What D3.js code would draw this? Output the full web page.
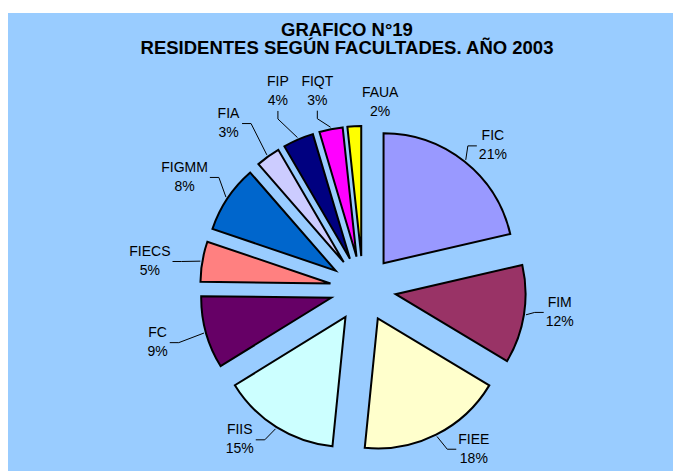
<!DOCTYPE html>
<html>
<head>
<meta charset="utf-8">
<script src="https://cdn.jsdelivr.net/npm/d3@7"></script>
<style>
  body { margin: 0; background: #fff; }
  svg { display: block; font-family: "Liberation Sans", Arial, sans-serif; }
</style>
</head>
<body>
<div id="chart"></div>
<script>
// --- data ---
const faculties = ["FIC", "FIM", "FIEE", "FIIS", "FC", "FIECS", "FIGMM", "FIA", "FIP", "FIQT", "FAUA"];
const shares = [21.4, 12.2, 18.0, 14.6, 9.0, 5.0, 8.4, 3.0, 3.8, 2.9, 1.7];
const sliceColors = ["#9999FF", "#993366", "#FFFFCC", "#CCFFFF", "#660066", "#FF8080",
                     "#0066CC", "#CCCCFF", "#000080", "#FF00FF", "#FFFF00"];
const titleLines = ["GRAFICO N°19", "RESIDENTES SEGÚN FACULTADES. AÑO 2003"];

// label placement: angle shift from slice middle (deg), distance from pie centre
const labelLayout = [[3.5, 194], [-2.5, 198], [-8.2, 194], [7.4, 194], [1.1, 212], [-2.1, 215],
                     [-1.6, 211], [-3.3, 214], [0.2, 216], [-1.6, 204], [8.3, 188]];

const width = 673, height = 471;
const cx = 363, cy = 289, radius = 130, explode = 33;

const svg = d3.select("#chart").append("svg")
  .attr("width", width)
  .attr("height", height);

// === background panel ===
svg.append("rect")
  .attr("x", 8).attr("y", 13)
  .attr("width", width - 8).attr("height", height - 13)
  .attr("fill", "#99CCFF");

// === title ===
svg.append("g")
  .selectAll("text")
  .data(titleLines)
  .join("text")
  .attr("x", 347)
  .attr("y", (d, i) => 36 + i * 18)
  .attr("text-anchor", "middle")
  .attr("font-weight", "bold")
  .attr("font-size", "18.5px")
  .attr("fill", "#000")
  .text(d => d);

// === pie ===
const data = faculties.map((f, i) => ({ name: f, value: shares[i], color: sliceColors[i], layout: labelLayout[i] }));

const pie = d3.pie().sort(null).value(d => d.value).startAngle(0).endAngle(2 * Math.PI);
const arcs = pie(data);
const arc = d3.arc().innerRadius(0).outerRadius(radius);

const mid = a => (a.startAngle + a.endAngle) / 2;

const g = svg.append("g").attr("transform", `translate(${cx},${cy})`);

g.selectAll("path")
  .data(arcs)
  .join("path")
  .attr("transform", d => {
    const m = mid(d);
    return `translate(${explode * Math.sin(m)},${-explode * Math.cos(m)})`;
  })
  .attr("d", arc)
  .attr("fill", d => d.data.color)
  .attr("stroke", "#000")
  .attr("stroke-width", 2)
  .attr("stroke-linejoin", "miter");

// === labels ===
const labels = g.append("g").attr("font-size", "14px").attr("fill", "#000");
const leaders = g.append("g").attr("fill", "none").attr("stroke", "#000").attr("stroke-width", 1);

arcs.forEach(d => {
  const m = mid(d);
  const la = m + d.data.layout[0] * Math.PI / 180;
  const lr = d.data.layout[1];
  const lx = lr * Math.sin(la), ly = -lr * Math.cos(la);

  const t = labels.append("text").attr("text-anchor", "middle");
  t.append("tspan").attr("x", lx).attr("y", ly - 4.5).text(d.data.name);
  t.append("tspan").attr("x", lx).attr("y", ly + 14.5).text(Math.round(d.data.value) + "%");

  const bb = t.node().getBBox();
  const sr = radius + explode + 2;
  const sx = sr * Math.sin(m), sy = -sr * Math.cos(m);

  let pts;
  const offVertical = Math.abs(Math.sin(la));
  if (offVertical < 0.45 && ly < 0) {
    // label above: end under the label
    const ey = bb.y + bb.height + 3;
    pts = [[sx, sy], [lx, ey + 8], [lx, ey]];
    if (sy - ey < 12) pts = null;
  } else {
    const ex = lx > 0 ? bb.x - 2 : bb.x + bb.width + 2;
    const step = lx > 0 ? -9 : 9;
    pts = [[sx, sy], [ex + step, ly + 1], [ex, ly + 1]];
  }
  if (pts) leaders.append("path").attr("d", d3.line()(pts));
});
</script>
</body>
</html>
